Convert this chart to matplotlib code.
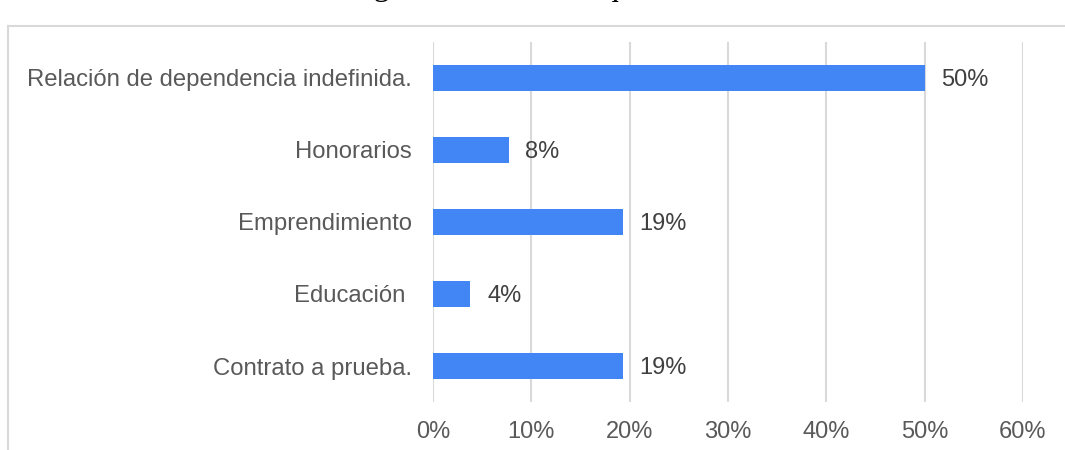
import matplotlib
matplotlib.use("Agg")
import matplotlib.pyplot as plt
from matplotlib.lines import Line2D
from matplotlib.ticker import FuncFormatter

categories = ["Relación de dependencia indefinida.", "Honorarios", "Emprendimiento",
              "Educación ", "Contrato a prueba."]
values = [0.50, 0.077, 0.193, 0.038, 0.193]
labels = ["50%", "8%", "19%", "4%", "19%"]
xticks = [0, 0.1, 0.2, 0.3, 0.4, 0.5, 0.6]
title = "Figura 3. Actividad que realiza"

plt.rcParams['font.family'] = ['Liberation Sans', 'DejaVu Sans']

W, H = 1065, 450
fig = plt.figure(figsize=(W / 100, H / 100), dpi=100)

# outer frame (partially cut off): top and left edges
fy = 1 - 25.5 / H
fx = 7.5 / W
fig.lines.append(Line2D([fx, 1.0], [fy, fy], transform=fig.transFigure,
                        color='#d9d9d9', linewidth=1.5))
fig.lines.append(Line2D([fx, fx], [0.0, fy], transform=fig.transFigure,
                        color='#d9d9d9', linewidth=1.5))

# cut-off caption
fig.text(545 / W, 1 + 5.5 / H, title, ha='center', va='baseline', fontsize=23,
         family=['Liberation Serif', 'DejaVu Serif'], color='black')

ax = fig.add_axes([433 / W, 1 - 402 / H, (1023 - 433) / W, (402 - 42) / H])
y = list(range(len(categories)))
ax.barh(y, values, height=0.35, color='#4285F4', zorder=3)
ax.set_ylim(len(categories) - 0.5, -0.5)
ax.set_xlim(0, 0.6)
ax.set_yticks(y)
ax.set_yticklabels(categories)
ax.set_xticks(xticks)
ax.xaxis.set_major_formatter(FuncFormatter(lambda v, p: f"{v*100:.0f}%"))
ax.tick_params(axis='y', length=0, pad=15, labelsize=17.2, labelcolor='#595959')
ax.tick_params(axis='x', length=0, pad=14, labelsize=17, labelcolor='#595959')
ax.grid(axis='x', color='#d9d9d9', linewidth=1.5, zorder=0)
for s in ['top', 'right', 'bottom', 'left']:
    ax.spines[s].set_visible(False)
ax.set_facecolor('none')

for yi, v, lab in zip(y, values, labels):
    ax.annotate(lab, (v, yi), xytext=(12, -1.5), textcoords='offset points',
                va='center', ha='left', fontsize=17, color='#404040')

fig.savefig("out.png", dpi=100)
